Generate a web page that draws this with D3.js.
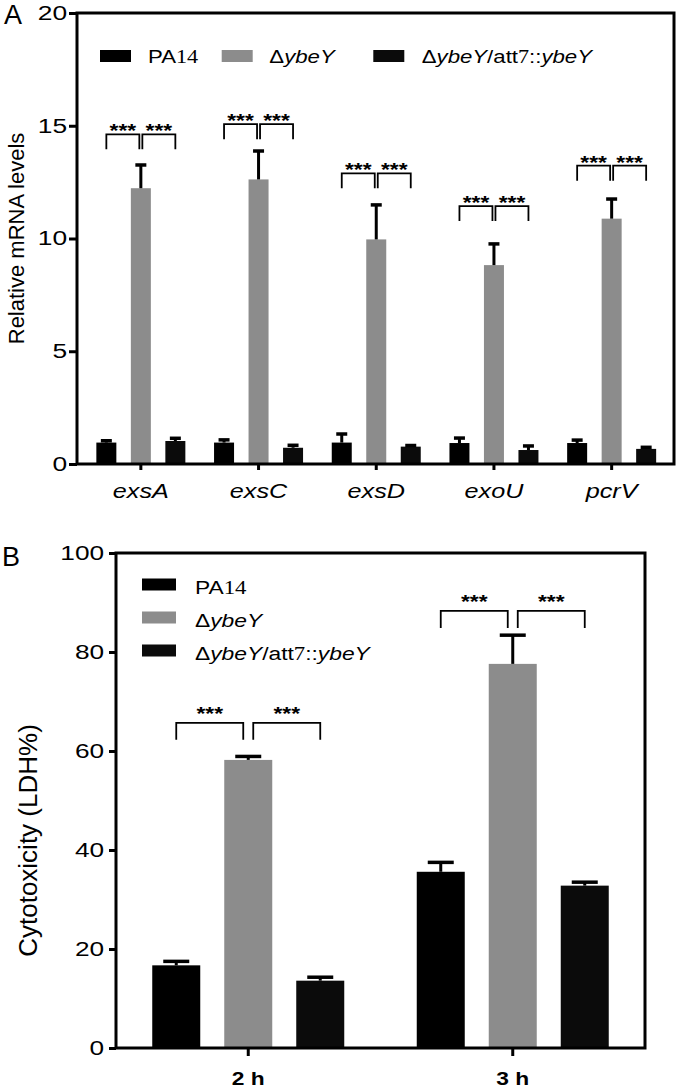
<!DOCTYPE html>
<html><head><meta charset="utf-8">
<script src="https://cdn.jsdelivr.net/npm/d3@7"></script>
<style>body{margin:0;background:#fff}svg{display:block}text{font-family:"Liberation Sans",Arial,Helvetica,sans-serif;fill:#000}</style>
</head><body><svg id="c" width="680" height="1088"></svg>
<script>
// ---------- data ----------
const seriesNames = ["PA14", "ΔybeY", "ΔybeY/att7::ybeY"];
const seriesColors = ["#000000", "#8c8c8c", "#0b0b0b"];

const genesA = ["exsA", "exsC", "exsD", "exoU", "pcrV"];
const pa14A = [0.95, 0.95, 0.95, 0.93, 0.93];
const pa14ErrA = [0.08, 0.12, 0.38, 0.22, 0.13];
const ybeYA = [12.23, 12.62, 9.96, 8.82, 10.88];
const ybeYErrA = [1.03, 1.26, 1.53, 0.94, 0.87];
const compA = [1.02, 0.72, 0.77, 0.62, 0.67];
const compErrA = [0.12, 0.11, 0.05, 0.18, 0.07];
const sigLevelA = [14.62, 15.07, 12.89, 11.44, 13.23];
const ticksA = [0, 5, 10, 15, 20];

const timesB = ["2 h", "3 h"];
const pa14B = [16.7, 35.6];
const pa14ErrB = [0.8, 1.9];
const ybeYB = [58.2, 77.6];
const ybeYErrB = [0.7, 5.8];
const compB = [13.6, 32.8];
const compErrB = [0.7, 0.7];
const sigLevelB = [65.7, 88.3];
const ticksB = [0, 20, 40, 60, 80, 100];
const sigLabel = "***";

// ---------- helpers ----------
const svg = d3.select("#c");
const SX = 1.2;
function txt(g, x, y, size, anchor) {
  return g.append("text")
    .attr("transform", `translate(${x},${y}) scale(${SX},1)`)
    .attr("font-size", size)
    .attr("text-anchor", anchor || "start");
}
function seriesLabel(t, name) {
  name.split(/(ybeY|\d+)/).filter(s => s.length).forEach(s => {
    const ts = t.append("tspan").text(s);
    if (s === "ybeY") ts.attr("font-style", "italic");
    else if (/^\d+$/.test(s)) ts.attr("font-family", "'Liberation Serif','Times New Roman',serif");
  });
}
function styleAxis(g, size, sw, sx) {
  g.select(".domain").remove();
  g.selectAll(".tick line").attr("stroke", "#000").attr("stroke-width", sw);
  g.selectAll(".tick text")
    .attr("font-size", size)
    .attr("font-family", "'Liberation Sans',Arial,sans-serif")
    .attr("fill", "#000")
    .attr("transform", `scale(${sx},1)`);
}

function drawPanel(cfg) {
  const g = svg.append("g");
  const y = d3.scaleLinear().domain(cfg.yDomain).range([cfg.bottom, cfg.top]);
  const x = d3.scaleBand().domain(cfg.cats).range(cfg.xRange);
  const sub = d3.scalePoint().domain(seriesNames).range([-cfg.offset, cfg.offset]);
  const cx = c => x(c) + x.bandwidth() / 2;

  cfg.values.forEach((vals, si) => {
    const name = seriesNames[si];
    const errs = cfg.errors[si];
    const bg = g.append("g");
    bg.selectAll("rect").data(cfg.cats).join("rect")
      .attr("x", c => cx(c) + sub(name) - cfg.barW / 2)
      .attr("width", cfg.barW)
      .attr("y", (c, i) => y(vals[i]))
      .attr("height", (c, i) => y(0) - y(vals[i]))
      .attr("fill", seriesColors[si]);
    bg.selectAll("line.eb").data(cfg.cats).join("line").attr("class", "eb")
      .attr("x1", c => cx(c) + sub(name)).attr("x2", c => cx(c) + sub(name))
      .attr("y1", (c, i) => y(vals[i])).attr("y2", (c, i) => y(vals[i] + errs[i]))
      .attr("stroke", "#000").attr("stroke-width", 3);
    bg.selectAll("line.cap").data(cfg.cats).join("line").attr("class", "cap")
      .attr("x1", c => cx(c) + sub(name) - cfg.capW / 2).attr("x2", c => cx(c) + sub(name) + cfg.capW / 2)
      .attr("y1", (c, i) => y(vals[i] + errs[i])).attr("y2", (c, i) => y(vals[i] + errs[i]))
      .attr("stroke", "#000").attr("stroke-width", 3.5);
  });

  // significance brackets
  cfg.cats.forEach((c, i) => {
    const yl = y(cfg.sig[i]);
    const pairs = [[cx(c) + sub(seriesNames[0]), cx(c) - cfg.gap], [cx(c) + cfg.gap, cx(c) + sub(seriesNames[2])]];
    pairs.forEach(([a, b]) => {
      g.append("path")
        .attr("d", `M${a},${yl + cfg.leg}V${yl}H${b}V${yl + cfg.leg}`)
        .attr("fill", "none").attr("stroke", "#000").attr("stroke-width", 1.8);
      txt(g, (a + b) / 2, yl + cfg.starDy, cfg.starSize, "middle")
        .attr("font-weight", "bold").text(sigLabel);
    });
  });

  // frame
  g.append("rect").attr("x", cfg.frame[0]).attr("y", cfg.top)
    .attr("width", cfg.frame[1] - cfg.frame[0]).attr("height", cfg.bottom - cfg.top)
    .attr("fill", "none").attr("stroke", "#000").attr("stroke-width", 3);

  // axes
  const ya = g.append("g").attr("transform", `translate(${cfg.frame[0]},0)`)
    .call(d3.axisLeft(y).tickValues(cfg.ticks).tickSize(cfg.yTick).tickPadding(cfg.yPad).tickFormat(d3.format("d")));
  styleAxis(ya, cfg.yFont, 3, cfg.yTickSX);
  const xa = g.append("g").attr("transform", `translate(0,${cfg.bottom})`)
    .call(d3.axisBottom(x).tickSize(cfg.xTick).tickFormat(""));
  styleAxis(xa, 10, 3, 1);

  // category labels
  cfg.cats.forEach(c => {
    txt(g, cx(c), cfg.catY, cfg.catFont, "middle")
      .attr("font-style", cfg.catItalic ? "italic" : null)
      .attr("font-weight", cfg.catBold ? "bold" : null)
      .text(c);
  });

  // y title
  g.append("text")
    .attr("transform", `translate(${cfg.titleX},${(cfg.top + cfg.bottom) / 2 + cfg.titleDy}) rotate(-90)`)
    .attr("text-anchor", "middle").attr("font-size", cfg.titleFont).text(cfg.title);

  // panel letter
  g.append("text").attr("x", cfg.letterX).attr("y", cfg.letterY).attr("font-size", 27).text(cfg.letter);
  return g;
}

// ---------- panel A ----------
const gA = drawPanel({
  cats: genesA, yDomain: [0, 20], top: 13, bottom: 464, xRange: [82, 670.5], frame: [77, 674],
  offset: 34.5, barW: 20, capW: 11,
  values: [pa14A, ybeYA, compA], errors: [pa14ErrA, ybeYErrA, compErrA],
  sig: sigLevelA, gap: 1.5, leg: 15, starDy: 3, starSize: 19,
  ticks: ticksA, yTick: 8, yPad: -0.5, yFont: 20, yTickSX: 1.32, xTick: 6,
  catY: 498, catFont: 21, catItalic: true,
  title: "Relative mRNA levels", titleX: 24, titleDy: 0, titleFont: 22,
  letter: "A", letterX: 4, letterY: 24
});
// legend A (horizontal)
const legA = [[100, 148], [221.7, 269.3], [373.3, 421.7]];
seriesNames.forEach((n, i) => {
  gA.append("rect").attr("x", legA[i][0]).attr("y", 50).attr("width", 31).attr("height", 12).attr("fill", seriesColors[i]);
  seriesLabel(txt(gA, legA[i][1], 63, 18.5, "start"), n);
});

// ---------- panel B ----------
const gB = drawPanel({
  cats: timesB, yDomain: [0, 100], top: 553, bottom: 1048, xRange: [116, 645], frame: [116, 645],
  offset: 72, barW: 48, capW: 26,
  values: [pa14B, ybeYB, compB], errors: [pa14ErrB, ybeYErrB, compErrB],
  sig: sigLevelB, gap: 5, leg: 17, starDy: -3, starSize: 19,
  ticks: ticksB, yTick: 7, yPad: 2.5, yFont: 21, yTickSX: 1.25, xTick: 8,
  catY: 1085, catFont: 19, catBold: true,
  title: "Cytotoxicity (LDH%)", titleX: 37, titleDy: 40, titleFont: 26,
  letter: "B", letterX: 2, letterY: 566
});
// legend B (vertical)
seriesNames.forEach((n, i) => {
  const by = 594 + i * 33;
  gB.append("rect").attr("x", 142).attr("y", by - 15.5).attr("width", 34).attr("height", 12).attr("fill", seriesColors[i]);
  seriesLabel(txt(gB, 195, by, 19, "start"), n);
});
</script></body></html>
